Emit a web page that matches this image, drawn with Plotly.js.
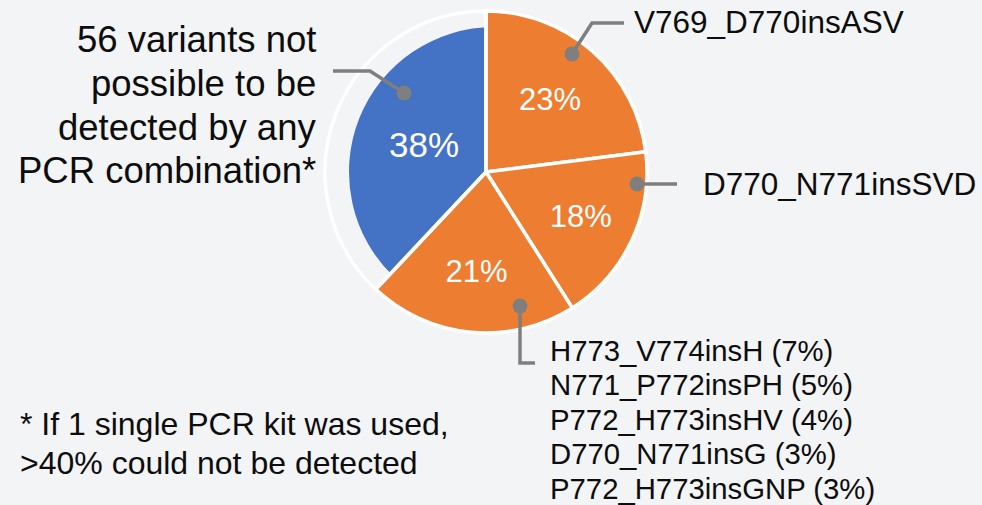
<!DOCTYPE html>
<html><head><meta charset="utf-8">
<script src="https://cdn.plot.ly/plotly-3.0.1.min.js"></script>
<style>html,body{margin:0;padding:0;background:#F3F4F6}#chart{width:982px;height:505px}</style>
</head><body><div id="chart"></div>
<script>
// ---- data ----
const categories = ['V769_D770insASV', 'D770_N771insSVD', 'Other insertions', 'Not detectable by any PCR combination'];
const shares = [23, 18, 21, 38];
const otherLabels = ['H773_V774insH', 'N771_P772insPH', 'P772_H773insHV', 'D770_N771insG', 'P772_H773insGNP'];
const otherShares = [7, 5, 4, 3, 3];
const undetectedText = ['56 variants not', 'possible to be', 'detected by any', 'PCR combination*'];
const footnoteText = ['* If 1 single PCR kit was used,', '>40% could not be detected'];

// ---- styling / layout ----
const W = 982, H = 505;
const FONT = '"Liberation Sans", Arial, sans-serif';
const ORANGE = '#ED7D31', BLUE = '#4472C4', BG = '#F3F4F6', GREY = '#7F7F7F', CLEAR = 'rgba(0,0,0,0)';
const px = x => x / W, py = y => 1 - y / H;
const mainPie = {cx: 486, cy: 172, r: 161};
const bluePie = {cx: 494, cy: 172, r: 145};
const dom = p => ({x: [px(p.cx - p.r), px(p.cx + p.r)], y: [py(p.cy + p.r), py(p.cy - p.r)]});
const blueIdx = 3;

const traceBlue = {
  type: 'pie', values: shares, labels: categories, sort: false, direction: 'clockwise', rotation: 0,
  domain: dom(bluePie),
  marker: {colors: shares.map((v, i) => i === blueIdx ? BLUE : CLEAR), line: {width: 0}},
  texttemplate: shares.map((v, i) => i === blueIdx ? '%{value}%' : ''),
  textposition: 'inside', insidetextorientation: 'horizontal',
  textfont: {family: FONT, size: 35, color: 'white'},
  hoverinfo: 'none', showlegend: false
};
const traceMain = {
  type: 'pie', values: shares, labels: categories, sort: false, direction: 'clockwise', rotation: 0,
  domain: dom(mainPie),
  marker: {colors: shares.map((v, i) => i === blueIdx ? CLEAR : ORANGE), line: {color: 'white', width: 3.5}},
  texttemplate: shares.map((v, i) => i === blueIdx ? '' : '%{value}%'),
  textposition: 'inside', insidetextorientation: 'horizontal',
  textfont: {family: FONT, size: 31, color: 'white'},
  hoverinfo: 'none', showlegend: false
};

// callout leader lines (pixel positions on the page)
const callouts = [
  [[404, 93], [370, 71], [333, 71]],
  [[572, 54], [592, 23], [624, 23]],
  [[637, 184], [677, 184]],
  [[520, 306], [520, 363], [535, 363]]
];
const shapes = [];
callouts.forEach(pts => {
  shapes.push({type: 'path', xref: 'paper', yref: 'paper',
    path: 'M ' + pts.map(([x, y]) => px(x) + ',' + py(y)).join(' L '),
    line: {color: GREY, width: 3.5}});
  shapes.push({type: 'circle', xref: 'paper', yref: 'paper', xsizemode: 'pixel', ysizemode: 'pixel',
    xanchor: px(pts[0][0]), yanchor: py(pts[0][1]), x0: -7.5, x1: 7.5, y0: -7.5, y1: 7.5,
    fillcolor: GREY, line: {width: 0}});
});

const ann = (text, x, y, size, xanchor) => ({
  text, x: px(x), y: py(y), xref: 'paper', yref: 'paper', xanchor, yanchor: 'middle',
  showarrow: false, borderpad: 0, borderwidth: 0, font: {family: FONT, size, color: '#0D0D0D'}
});
const annotations = [];
undetectedText.forEach((t, i) => annotations.push(ann(t, 316, 40 + i * 43.5, 36.5, 'right')));
annotations.push(ann(categories[0], 634, 22, 31.5, 'left'));
annotations.push(ann(categories[1], 703, 184, 31.5, 'left'));
otherLabels.forEach((t, i) => annotations.push(ann(t + ' (' + otherShares[i] + '%)', 550, 350 + i * 34.6, 29.3, 'left')));
footnoteText.forEach((t, i) => annotations.push(ann(t, 20, 424 + i * 38.6, 32, 'left')));

const layout = {
  width: W, height: H, margin: {l: 0, r: 0, t: 0, b: 0},
  paper_bgcolor: BG, plot_bgcolor: BG, showlegend: false,
  shapes, annotations
};
Plotly.newPlot('chart', [traceBlue, traceMain], layout, {displayModeBar: false, staticPlot: true});
</script>
</body></html>
